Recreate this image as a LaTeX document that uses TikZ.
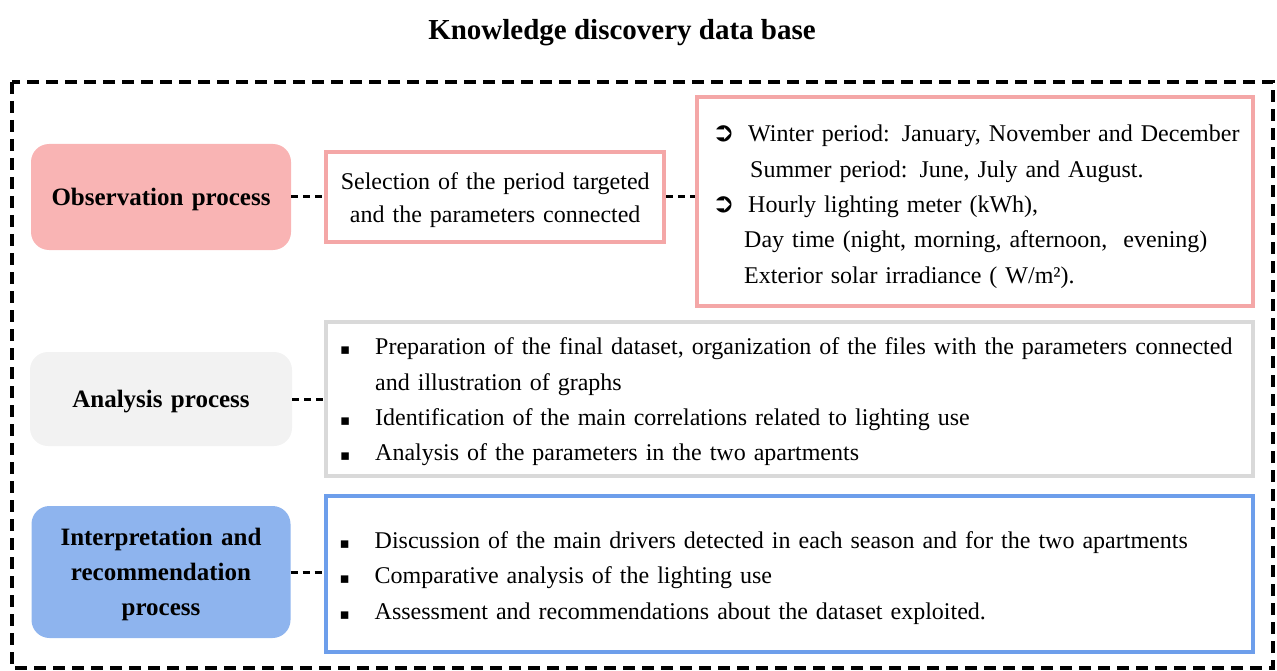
\documentclass[tikz,border=0pt]{standalone}
\usepackage{fontspec}
\setmainfont{Liberation Serif}
\newfontfamily\symfont{DejaVu Sans}
\usetikzlibrary{positioning}

\definecolor{obsfill}{HTML}{F9B4B4}
\definecolor{obsline}{HTML}{F4A7A7}
\definecolor{anafill}{HTML}{F2F2F2}
\definecolor{analine}{HTML}{D9D9D9}
\definecolor{intfill}{HTML}{8EB4EE}
\definecolor{intline}{HTML}{6D9EEB}

\newcommand{\arrbul}{\makebox[36pt][l]{\symfont\bfseries\fontsize{27}{27}\selectfont ➲}}
\newcommand{\sqbul}{\makebox[35pt][l]{\symfont\fontsize{15}{15}\selectfont ▪}}
\newcommand{\lift}[1]{\rule{0pt}{#1}}

\tikzset{
  stage/.style={rounded corners=18pt, align=center, text width=240pt, font=\fontsize{25}{35}\selectfont\bfseries},
  listbox/.style={draw, line width=4pt, fill=white, align=left, font=\fontsize{24}{35.3}\selectfont},
  link/.style={line width=3pt, dash pattern=on 7pt off 5pt}
}

\begin{document}
\begin{tikzpicture}[x=1pt, y=-1pt]
  \useasboundingbox (0,0) rectangle (1277,671);

  \node[font=\fontsize{29}{35}\selectfont\bfseries] (title) at (622,33) {Knowledge discovery data base};
  \draw[line width=3.5pt, dash pattern=on 12pt off 7pt] (12,82) rectangle (1273,668);

  % process stages
  \node[stage, fill=obsfill, minimum width=260pt, minimum height=106pt] (obs) at (161,197) {\lift{23pt}Observation process};
  \node[stage, fill=anafill, minimum width=262pt, minimum height=94pt] (ana) at (161,399) {\lift{23pt}Analysis process};
  \node[stage, fill=intfill, minimum width=259pt, minimum height=132pt] (int) at (161,572) {\lift{23pt}Interpretation and\\recommendation\\process};

  % observation
  \node[listbox, draw=obsline, align=center, text width=320pt, inner xsep=5pt, font=\fontsize{24}{33}\selectfont, minimum width=338pt, minimum height=90pt, right=33pt of obs] (sel) {\lift{22.5pt}Selection of the period targeted\\and the parameters connected};
  \node[listbox, draw=obsline, text width=526pt, inner xsep=15pt, minimum height=209pt, right=29pt of sel, yshift=-4.5pt] (periods)
    {\mbox{\lift{27pt}\arrbul Winter period: January, November and December}\\
     \mbox{\hspace*{38pt}Summer period: June, July and August.}\\
     \mbox{\arrbul Hourly lighting meter (kWh),}\\
     \mbox{\hspace*{32pt}Day time (night, morning, afternoon,\ \ evening)}\\
     \mbox{\hspace*{32pt}Exterior solar irradiance ( W/m²).}};

  % analysis
  \node[listbox, draw=analine, text width=899pt, inner xsep=14pt, minimum height=154pt, right=32pt of ana] (anabox)
    {\mbox{\lift{23pt}\sqbul Preparation of the final dataset, organization of the files with the parameters connected}\\
     \mbox{\hspace*{35pt}and illustration of graphs}\\
     \mbox{\sqbul Identification of the main correlations related to lighting use}\\
     \mbox{\sqbul Analysis of the parameters in the two apartments}};

  % interpretation
  \node[listbox, draw=intline, text width=899pt, inner xsep=14pt, minimum height=156pt, right=33pt of int, yshift=-2pt] (intbox)
    {\mbox{\lift{25pt}\sqbul Discussion of the main drivers detected in each season and for the two apartments}\\
     \mbox{\sqbul Comparative analysis of the lighting use}\\
     \mbox{\sqbul Assessment and recommendations about the dataset exploited.}};

  \draw[link] (obs) -- (sel);
  \draw[link] (sel.east) -- (sel.east -| periods.west);
  \draw[link] (ana) -- (anabox);
  \draw[link] (int.east) -- (int.east -| intbox.west);
\end{tikzpicture}
\end{document}
